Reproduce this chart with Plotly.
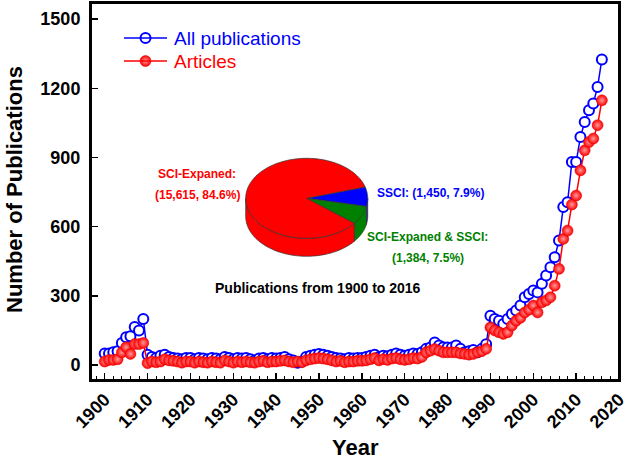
import numpy as np
import plotly.graph_objects as go

years = list(range(1900, 2017))
all_pubs = [50, 50, 55, 60, 95, 120, 125, 165, 150, 200, 45,
            35, 30, 40, 45, 35, 30, 28, 25, 30,
            30, 25, 30, 28, 25, 30, 28, 25, 35, 30,
            25, 30, 28, 30, 25, 20, 28, 30, 25, 30,
            28, 30, 35, 25, 20, 10, 15, 35, 40, 45,
            48, 45, 40, 35, 30, 28, 25, 30, 28, 30,
            30, 35, 40, 45, 35, 40, 38, 45, 50, 45,
            40, 45, 50, 48, 55, 70, 76, 98, 85, 77,
            76, 76, 85, 70, 55, 60, 65, 55, 70, 90,
            214, 200, 192, 178, 200, 221, 236, 258, 294, 308,
            323, 315, 352, 388, 424, 467, 540, 685, 706, 880, 880, 989, 1054, 1105, 1134, 1206, 1325]
articles = [15, 22, 22, 25, 55, 77, 48, 91, 91, 96, 8,
            15, 12, 15, 25, 20, 18, 15, 10, 15,
            15, 10, 15, 12, 10, 15, 12, 10, 20, 15,
            10, 15, 12, 15, 12, 10, 15, 18, 12, 15,
            15, 18, 20, 15, 12, 15, 12, 20, 25, 28,
            30, 28, 25, 20, 15, 18, 12, 15, 15, 18,
            18, 20, 25, 30, 20, 25, 22, 28, 30, 25,
            22, 25, 30, 28, 35, 55, 62, 69, 62, 55,
            55, 55, 55, 50, 48, 45, 48, 55, 60, 70,
            163, 150, 142, 135, 142, 171, 192, 205, 228, 240,
            258, 228, 272, 280, 294, 344, 417, 547, 583, 696, 735, 844, 931, 967, 982, 1040, 1148]

series_names = ["All publications", "Articles"]
pie_labels = ["SSCI", "SCI-Expaned & SSCI", "SCI-Expaned"]
pie_values = [1450, 1384, 15615]
pie_colors = ["#0000ff", "#008000", "#ff0000"]

y_ticks = [0, 300, 600, 900, 1200, 1500]
x_ticks = list(range(1900, 2021, 10))

FONT = "Liberation Sans, Arial, sans-serif"
W, H = 634, 460
L, R, T, B = 91, 15, 3, 80
PW, PH = W - L - R, H - T - B
XR = [1896.8, 2020]
YR = [-65, 1570]


def paper(xi, yi):
    return (xi - L) / PW, (T + PH - yi) / PH


def data_xy(xi, yi):
    xp, yp = paper(xi, yi)
    return XR[0] + xp * (XR[1] - XR[0]), YR[0] + yp * (YR[1] - YR[0])


blue_marker = dict(symbol="circle", size=10, color="white",
                   line=dict(color="#0000ff", width=2))
red_marker = dict(symbol="circle", size=11, color="#ff0000",
                  gradient=dict(type="radial", color="#ff9a9a"),
                  line=dict(color="#e00000", width=0.5))

fig = go.Figure()
fig.add_trace(go.Scatter(
    x=years, y=all_pubs, mode="lines+markers", name=series_names[0],
    line=dict(color="#0000ff", width=1.5), marker=blue_marker, showlegend=False,
))
fig.add_trace(go.Scatter(
    x=years, y=articles, mode="lines+markers", name=series_names[1],
    line=dict(color="#ff0000", width=1.5), marker=red_marker, showlegend=False,
))

shapes = []
annotations = []

# ---- 3D pie drawn as paper-referenced path shapes ----
pcx, pcy = 306.7, 198.3
a, b, depth = 61.0, 40.0, 18.0
start = 16.5
tot = sum(pie_values)
angles = [start]
for v in pie_values:
    angles.append(angles[-1] - v / tot * 360.0)


def ell_px(th_deg, dy=0.0):
    t = np.radians(np.asarray(th_deg, dtype=float))
    return pcx + a * np.cos(t), pcy - b * np.sin(t) + dy


def path_from_px(xs, ys):
    pts = [paper(x, y) for x, y in zip(xs, ys)]
    return "M " + " L ".join(f"{x:.5f},{y:.5f}" for x, y in pts) + " Z"


for i, col in enumerate(pie_colors):
    a0, a1 = angles[i], angles[i + 1]
    for shift in (0, -360, 360):
        lo = max(a1 + shift, -180.0)
        hi = min(a0 + shift, 0.0)
        if hi > lo:
            th = np.linspace(hi, lo, 60)
            xt, yt = ell_px(th)
            xb, yb = ell_px(th[::-1], depth)
            shapes.append(dict(type="path", xref="paper", yref="paper",
                               path=path_from_px(np.concatenate([xt, xb]), np.concatenate([yt, yb])),
                               fillcolor=col, line=dict(color="#333333", width=0.7),
                               layer="above"))

for i, col in enumerate(pie_colors):
    th = np.linspace(angles[i], angles[i + 1], 120)
    xe, ye = ell_px(th)
    shapes.append(dict(type="path", xref="paper", yref="paper",
                       path=path_from_px(np.concatenate([[pcx], xe]), np.concatenate([[pcy], ye])),
                       fillcolor=col, line=dict(color="#333333", width=0.7),
                       layer="above"))

# ---- manual legend ----
leg_rows = [(38, "#0000ff", blue_marker), (61, "#ff0000", red_marker)]
for (yi, col, mk), name in zip(leg_rows, series_names):
    x0, y0 = paper(124, yi)
    x1, _ = paper(167, yi)
    shapes.append(dict(type="line", xref="paper", yref="paper", x0=x0, x1=x1, y0=y0, y1=y0,
                       line=dict(color=col, width=1.5)))
    mx, my = data_xy(145.5, yi)
    fig.add_trace(go.Scatter(x=[mx], y=[my], mode="markers", marker=mk,
                             showlegend=False, hoverinfo="skip"))
    tx, ty = paper(172, yi)
    annotations.append(dict(x=tx, y=ty, xref="paper", yref="paper", text=name, showarrow=False,
                            xanchor="left", yanchor="middle",
                            font=dict(family=FONT, size=19, color=col)))

# frame
shapes.append(dict(type="rect", xref="paper", yref="paper", x0=0, x1=1, y0=0, y1=1,
                   line=dict(color="black", width=2), fillcolor="rgba(0,0,0,0)", layer="above"))

pct = [v / tot * 100 for v in pie_values]
ann = [
    ("SCI-Expaned:", 197, 174, "#ff0000", 12),
    ("(%s, %.1f%%)" % (f"{pie_values[2]:,}", pct[2]), 197, 195, "#ff0000", 12),
    ("SSCI: (%s, %.1f%%)" % (f"{pie_values[0]:,}", pct[0]), 430, 193, "#0000ff", 12),
    ("SCI-Expaned & SSCI:", 427, 237, "#008000", 12),
    ("(%s, %.1f%%)" % (f"{pie_values[1]:,}", pct[1]), 428, 258, "#008000", 12),
    ("Publications from 1900 to 2016", 318, 288, "#000000", 14),
]
for txt, xi, yi, col, fs in ann:
    X, Y = paper(xi, yi)
    annotations.append(dict(x=X, y=Y, xref="paper", yref="paper", text=txt,
                            showarrow=False, xanchor="center", yanchor="middle",
                            font=dict(family=FONT, size=fs, color=col, weight="bold")))

X, Y = paper(355, 447)
annotations.append(dict(x=X, y=Y, xref="paper", yref="paper", text="Year", showarrow=False,
                        xanchor="center", yanchor="middle",
                        font=dict(family=FONT, size=22, color="black", weight="bold")))
X, Y = paper(14, 190)
annotations.append(dict(x=X, y=Y, xref="paper", yref="paper", text="Number of Publications",
                        showarrow=False, textangle=-90, xanchor="center", yanchor="middle",
                        font=dict(family=FONT, size=22, color="black", weight="bold")))

fig.update_layout(
    width=W, height=H,
    margin=dict(l=L, r=R, t=T, b=B, autoexpand=False),
    paper_bgcolor="white", plot_bgcolor="white",
    showlegend=False, dragmode=False,
    xaxis=dict(range=XR, tickmode="array", tickvals=x_ticks,
               tickangle=-45, ticks="inside", ticklen=7, tickwidth=1.5,
               tickcolor="black",
               minor=dict(dtick=2, ticks="inside", ticklen=4, tickwidth=1, tickcolor="black"),
               showline=True, linecolor="black", linewidth=2, mirror=True,
               showgrid=False, zeroline=False,
               tickfont=dict(family=FONT, size=18, color="black", weight="bold")),
    yaxis=dict(range=YR, tickmode="array", tickvals=y_ticks,
               ticks="inside", ticklen=7, tickwidth=1.5, tickcolor="black",
               showline=True, linecolor="black", linewidth=2, mirror=True,
               showgrid=False, zeroline=False, ticklabelstandoff=5,
               tickfont=dict(family=FONT, size=18, color="black", weight="bold")),
    shapes=shapes,
    annotations=annotations,
)

fig.write_html("out.html", config={"displayModeBar": False, "staticPlot": True},
               post_script="document.body.style.margin='0';")
